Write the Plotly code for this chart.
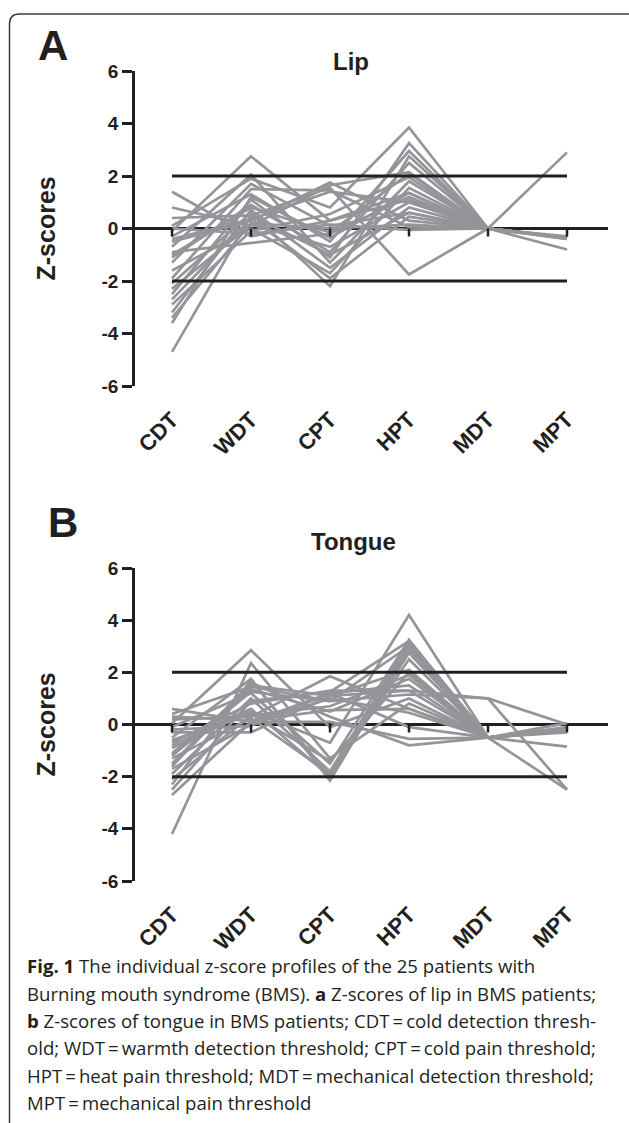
import plotly.graph_objects as go

W, H = 629, 1123

categories = ["CDT", "WDT", "CPT", "HPT", "MDT", "MPT"]
y_tickvals = [-6, -4, -2, 0, 2, 4, 6]
y_ticktext = ["-6", "-4", "-2", "0", "2", "4", "6"]
ref_levels = [2, -2]

# Lip z-scores, one list per test (25 patients each)
lip_cdt = [1.4, 0.8, 0.4, 0.1, -0.1, -0.3, -0.5, -0.7, -0.9, -1.1, -1.3, -1.6, -1.9,
           -2.1, -2.3, -2.5, -2.7, -2.9, -3.2, -3.4, -3.6, -4.7, 0.0, -0.4, -1.0]
lip_wdt = [-0.3, 0.1, 0.5, 1.9, 2.75, 1.3, 0.3, 2.05, -0.55, 0.9, 1.7, 0.0, 1.5,
           0.6, 0.15, 1.1, 0.4, -0.1, 0.7, 0.2, 1.2, 0.5, -0.2, 0.35, 0.8]
lip_cpt = [0.3, 1.65, 1.55, 0.8, 0.3, -0.5, 1.75, -1.3, -0.2, -0.9, 0.1, -1.7, 1.45,
           -2.2, -0.7, -1.1, -1.9, 0.55, -1.5, 0.0, -0.35, -1.0, 0.15, 1.4, -0.15]
lip_hpt = [1.1, 2.15, -1.75, 3.85, 1.35, 2.95, 0.3, 1.8, 1.2, 2.5, 0.6, 1.55, 0.05,
           2.75, 1.0, 3.25, 0.45, 1.95, 0.8, 0.15, 1.35, 0.6, -0.05, 1.0, 2.1]
lip_mdt = [0.0] * 25
lip_mpt = [-0.35, -0.35, -0.35, -0.35, -0.35, -0.35, -0.4, -0.35, -0.8, -0.35, -0.35,
           -0.35, 2.9, -0.35, -0.4, -0.35, -0.35, -0.35, -0.35, -0.3, -0.35, -0.35,
           -0.35, -0.35, -0.35]

# Tongue z-scores
tongue_cdt = [0.6, 0.4, 0.2, 0.05, -0.1, -0.3, -0.5, -0.7, -0.9, -1.1, -1.3, -1.5, -1.7,
              -1.9, -2.1, -2.3, -2.7, -4.2, -0.2, -1.2, -0.8, 0.3, -1.6, -0.6, -2.5]
tongue_wdt = [0.1, 1.45, 0.3, 2.85, 1.2, -0.3, 1.75, 0.8, 0.5, 1.35, 0.25, 1.6, 0.0,
              1.0, 0.35, 1.7, 0.1, 2.35, -0.05, 1.25, 0.6, 0.15, 1.5, 0.4, 0.9]
tongue_cpt = [1.2, 0.9, 1.85, -0.1, -1.5, 1.1, -2.15, 1.3, -0.7, 0.5, -1.9, 0.3, 1.0,
              -1.8, 0.7, -2.0, 0.1, -1.3, 1.2, 0.9, -2.0, 0.55, 1.1, -1.4, 1.25]
tongue_hpt = [1.5, 3.0, 0.6, 1.0, 3.25, 2.1, 2.9, 1.3, 4.2, 1.75, 2.5, -0.8, 0.45,
              3.1, 1.9, 2.75, -0.55, 0.8, -0.1, 1.15, 2.95, 0.6, 1.3, 2.0, 3.2]
tongue_mdt = [-0.5, -0.5, -0.5, -0.5, -0.5, -0.5, -0.5, 1.0, -0.5, -0.5, -0.5, -0.5, -0.5,
              -0.5, -0.5, -0.5, -0.5, -0.5, -0.5, 1.0, -0.5, -0.5, -0.5, -0.5, -0.5]
tongue_mpt = [-0.2, -0.2, -0.25, -0.2, -0.2, -0.85, -0.2, -2.5, -0.2, 0.05, -0.2, -0.2, -2.5,
              -0.25, -0.2, -0.1, -0.2, -0.2, -0.3, 0.0, -0.2, -0.25, -0.2, -0.2, -0.2]

caption_lines = [
    "<b>Fig. 1</b> The individual z-score profiles of the 25 patients with",
    "Burning mouth syndrome (BMS). <b>a</b> Z-scores of lip in BMS patients;",
    "<b>b</b> Z-scores of tongue in BMS patients; CDT\u2009=\u2009cold detection thresh-",
    "old; WDT\u2009=\u2009warmth detection threshold; CPT\u2009=\u2009cold pain threshold;",
    "HPT\u2009=\u2009heat pain threshold; MDT\u2009=\u2009mechanical detection threshold;",
    "MPT\u2009=\u2009mechanical pain threshold",
]

GRAY = "#939598"
INK = "#231f20"
FONT = "Liberation Sans, Arial, sans-serif"


def px_x(p):
    return p / W


def px_y(p):
    return 1 - p / H


panels = [
    dict(cols=[lip_cdt, lip_wdt, lip_cpt, lip_hpt, lip_mdt, lip_mpt], title="Lip",
         letter="A", top=71, bottom=386, title_xy=(351, 62), letter_xy=(53, 45),
         xa="x", ya="y"),
    dict(cols=[tongue_cdt, tongue_wdt, tongue_cpt, tongue_hpt, tongue_mdt, tongue_mpt],
         title="Tongue", letter="B", top=568, bottom=881, title_xy=(353, 541),
         letter_xy=(63, 522), xa="x2", ya="y2"),
]

fig = go.Figure()
annotations = []
shapes = []

x_dom = [px_x(135), px_x(608)]
x_range = [-(172 - 135) / 79.0, (608 - 172) / 79.0]

for i, p in enumerate(panels):
    cols = p["cols"]
    n = len(cols[0])
    for k in range(n):
        fig.add_trace(go.Scatter(
            x=categories, y=[c[k] for c in cols], mode="lines",
            line=dict(color=GRAY, width=2.7), xaxis=p["xa"], yaxis=p["ya"],
            showlegend=False, hoverinfo="skip"))
    for lvl in ref_levels:
        fig.add_trace(go.Scatter(
            x=[categories[0], categories[-1]], y=[lvl, lvl], mode="lines",
            line=dict(color=INK, width=3), xaxis=p["xa"], yaxis=p["ya"],
            showlegend=False, hoverinfo="skip"))
    suffix = "" if i == 0 else str(i + 1)
    y_dom = [px_y(p["bottom"]), px_y(p["top"])]
    fig.layout["xaxis" + suffix] = dict(
        domain=x_dom, range=x_range, type="category", anchor="y" + suffix,
        automargin=False,
        showline=False, showgrid=False, zeroline=False,
        ticks="outside", ticklen=11, tickcolor="rgba(0,0,0,0)",
        tickangle=-45, tickfont=dict(family=FONT, size=22, color=INK, weight="bold"),
    )
    fig.layout["yaxis" + suffix] = dict(
        domain=y_dom, range=[-6, 6], anchor="x" + suffix, automargin=False,
        tickvals=y_tickvals, ticktext=y_ticktext,
        showline=True, linecolor=INK, linewidth=2.5,
        ticks="outside", ticklen=10, tickwidth=2.5, tickcolor=INK,
        showgrid=False, zeroline=True, zerolinecolor=INK, zerolinewidth=3,
        tickfont=dict(family=FONT, size=19, color=INK, weight="bold"),
    )
    # small tick marks on the zero line at each category
    for c in categories:
        shapes.append(dict(type="line", xref="x" + suffix, yref="y" + suffix,
                           x0=c, x1=c, ysizemode="pixel", yanchor=0, y0=0, y1=-8,
                           line=dict(color=INK, width=2.5)))
    tx, ty = p["title_xy"]
    annotations.append(dict(text=p["title"], x=px_x(tx), y=px_y(ty), xref="paper",
                            yref="paper", showarrow=False, xanchor="center",
                            yanchor="middle",
                            font=dict(family=FONT, size=24, color=INK, weight="bold")))
    lx, ly = p["letter_xy"]
    annotations.append(dict(text=p["letter"], x=px_x(lx), y=px_y(ly), xref="paper",
                            yref="paper", showarrow=False, xanchor="center",
                            yanchor="middle",
                            font=dict(family=FONT, size=42, color=INK, weight="bold")))
    annotations.append(dict(text="Z-scores", x=px_x(45), y=px_y((p["top"] + p["bottom"]) / 2),
                            xref="paper", yref="paper", showarrow=False, textangle=-90,
                            xanchor="center", yanchor="middle",
                            font=dict(family=FONT, size=25, color=INK, weight="bold")))

cap_y = [965, 993, 1020, 1047, 1075, 1102]
for line, cy in zip(caption_lines, cap_y):
    annotations.append(dict(text=line, x=px_x(25), y=px_y(cy), xref="paper", yref="paper",
                            showarrow=False, xanchor="left", yanchor="middle",
                            font=dict(family="Open Sans, sans-serif", size=18.6, color=INK)))

# rounded frame (top-left corner visible, continues past the page edges)
def P(x, y):
    return f"{px_x(x):.5f},{px_y(y):.5f}"

shapes.append(dict(type="path", xref="paper", yref="paper",
                   path=f"M {P(9.5, 1140)} L {P(9.5, 24)} Q {P(9.5, 14)} {P(19.5, 14)} L {P(650, 14)}",
                   line=dict(color="#3a3a3a", width=1.5)))

fig.update_layout(
    width=W, height=H, margin=dict(l=0, r=0, t=0, b=0, autoexpand=False),
    paper_bgcolor="white", plot_bgcolor="white",
    annotations=annotations, shapes=shapes, showlegend=False,
)

fig.write_html("out.html", config={"displayModeBar": False},
               post_script="document.body.style.margin='0';")
